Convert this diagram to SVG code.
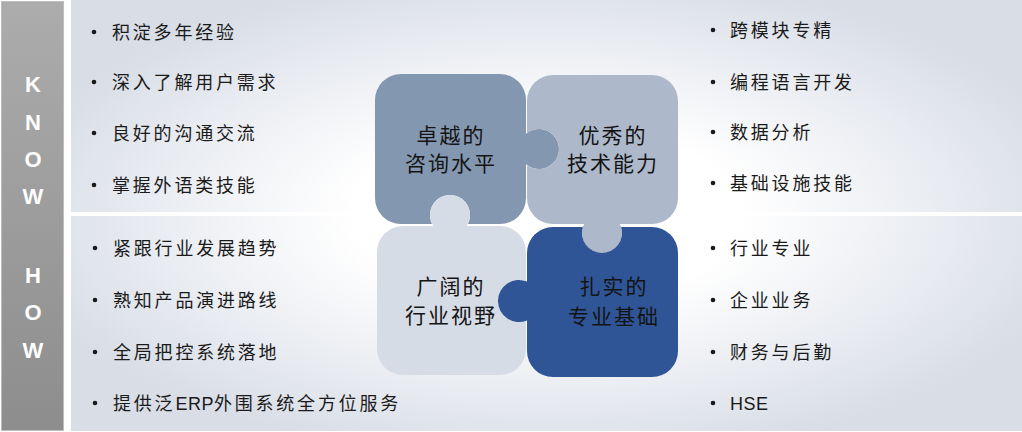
<svg xmlns="http://www.w3.org/2000/svg" width="1022" height="432" viewBox="0 0 1022 432">
<defs>
<linearGradient id="gBar" x1="0" y1="0" x2="0" y2="1"><stop offset="0" stop-color="#acacac"/><stop offset="1" stop-color="#8d8d8d"/></linearGradient>
<radialGradient id="gTL" cx="1" cy="1" r="1.15"><stop offset="0.35" stop-color="#ffffff"/><stop offset="1" stop-color="#d8dde6"/></radialGradient>
<radialGradient id="gTR" cx="0" cy="1" r="1.15"><stop offset="0.35" stop-color="#ffffff"/><stop offset="1" stop-color="#d8dde6"/></radialGradient>
<radialGradient id="gBL" cx="1" cy="0" r="1.15"><stop offset="0.35" stop-color="#ffffff"/><stop offset="1" stop-color="#d8dde6"/></radialGradient>
<radialGradient id="gBR" cx="0" cy="0" r="1.15"><stop offset="0.35" stop-color="#ffffff"/><stop offset="1" stop-color="#d8dde6"/></radialGradient>
</defs>
<style>
.bar{fill:url(#gBar);stroke:#bdbdbd;stroke-width:1}
.kh{font-family:"Liberation Sans",Arial,sans-serif;font-weight:bold;font-size:22px;fill:#ffffff;text-anchor:middle}
.li{font-family:"Noto Sans CJK SC",sans-serif;font-size:18px;letter-spacing:2.8px;fill:#1a1a1a}
.lat{font-family:"Liberation Sans",Arial,sans-serif;letter-spacing:0.5px}
.dot{fill:#1a1a1a}
.pt{font-family:"Noto Sans CJK SC",sans-serif;font-size:21px;letter-spacing:2px;fill:#141414;text-anchor:middle}
</style>
<rect width="1022" height="432" fill="#ffffff"/>
<g id="panels">
<rect x="71" y="0" width="476" height="212" fill="url(#gTL)"/>
<rect x="547" y="0" width="475" height="212" fill="url(#gTR)"/>
<rect x="71" y="216" width="476" height="215" fill="url(#gBL)"/>
<rect x="547" y="216" width="475" height="215" fill="url(#gBR)"/>
</g>
<g id="knowhow">
<rect class="bar" x="1.5" y="1.5" width="62" height="429"/>
<text class="kh" x="33" y="92">K</text>
<text class="kh" x="33" y="130">N</text>
<text class="kh" x="33" y="167">O</text>
<text class="kh" x="33" y="204">W</text>
<text class="kh" x="33" y="283">H</text>
<text class="kh" x="33" y="320">O</text>
<text class="kh" x="33" y="358">W</text>
</g>
<g id="list-tl">
<circle class="dot" cx="94" cy="32" r="2.3"/><text class="li" x="112" y="39">积淀多年经验</text>
<circle class="dot" cx="94" cy="82" r="2.3"/><text class="li" x="112" y="89">深入了解用户需求</text>
<circle class="dot" cx="94" cy="133" r="2.3"/><text class="li" x="112" y="140">良好的沟通交流</text>
<circle class="dot" cx="94" cy="185" r="2.3"/><text class="li" x="112" y="192">掌握外语类技能</text>
</g>
<g id="list-bl">
<circle class="dot" cx="95" cy="248" r="2.3"/><text class="li" x="113" y="255">紧跟行业发展趋势</text>
<circle class="dot" cx="95" cy="300" r="2.3"/><text class="li" x="113" y="307">熟知产品演进路线</text>
<circle class="dot" cx="95" cy="352" r="2.3"/><text class="li" x="113" y="359">全局把控系统落地</text>
<circle class="dot" cx="95" cy="403" r="2.3"/><text class="li" x="113" y="410">提供泛<tspan class="lat">ERP</tspan>外围系统全方位服务</text>
</g>
<g id="list-tr">
<circle class="dot" cx="713" cy="30" r="2.3"/><text class="li" x="730" y="37">跨模块专精</text>
<circle class="dot" cx="713" cy="82" r="2.3"/><text class="li" x="730" y="89">编程语言开发</text>
<circle class="dot" cx="713" cy="132" r="2.3"/><text class="li" x="730" y="139">数据分析</text>
<circle class="dot" cx="713" cy="183" r="2.3"/><text class="li" x="730" y="190">基础设施技能</text>
</g>
<g id="list-br">
<circle class="dot" cx="713" cy="248" r="2.3"/><text class="li" x="730" y="255">行业专业</text>
<circle class="dot" cx="713" cy="300" r="2.3"/><text class="li" x="730" y="307">企业业务</text>
<circle class="dot" cx="713" cy="352" r="2.3"/><text class="li" x="730" y="359">财务与后勤</text>
<circle class="dot" cx="713" cy="403" r="2.3"/><text class="li lat" x="730" y="410">HSE</text>
</g>
<g id="piece-consulting">
<path fill="#8497b0" d="M 401,74 H 500 A 26 26 0 0 1 526,100 V 133.8 A 20 20 0 1 1 526,164.2 V 198 A 26 26 0 0 1 500,224 H 467.9 A 20 20 0 1 0 432.1,224 H 401 A 26 26 0 0 1 375,198 V 100 A 26 26 0 0 1 401,74 Z"/>
<text class="pt" x="451" y="143">卓越的</text>
<text class="pt" x="451" y="171">咨询水平</text>
</g>
<g id="piece-technical">
<path fill="#adb9ca" d="M 553,75 H 652 A 26 26 0 0 1 678,101 V 198 A 26 26 0 0 1 652,224 H 619.9 A 20 20 0 1 1 584.1,224 H 553 A 26 26 0 0 1 527,198 V 165 A 20 20 0 1 0 527,133 V 101 A 26 26 0 0 1 553,75 Z"/>
<text class="pt" x="613" y="143">优秀的</text>
<text class="pt" x="613" y="171">技术能力</text>
</g>
<g id="piece-industry">
<path fill="#d6dce5" d="M 403,226 H 433.3 A 20 20 0 1 1 466.7,226 H 500 A 26 26 0 0 1 526,252 V 281.2 A 21 21 0 1 0 526,320.8 V 349 A 26 26 0 0 1 500,375 H 403 A 26 26 0 0 1 377,349 V 252 A 26 26 0 0 1 403,226 Z"/>
<text class="pt" x="451" y="294">广阔的</text>
<text class="pt" x="451" y="323">行业视野</text>
</g>
<g id="piece-foundation">
<path fill="#2f5597" d="M 553,227 H 582.9 A 20 20 0 1 0 621.1,227 H 652 A 26 26 0 0 1 678,253 V 351 A 26 26 0 0 1 652,377 H 553 A 26 26 0 0 1 527,351 V 320.4 A 21 21 0 1 1 527,281.6 V 253 A 26 26 0 0 1 553,227 Z"/>
<text class="pt" x="614" y="294">扎实的</text>
<text class="pt" x="614" y="324">专业基础</text>
</g>
<g id="connectors"/>
</svg>
